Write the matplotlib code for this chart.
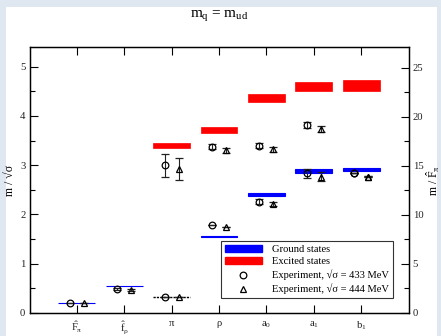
import matplotlib
matplotlib.use("Agg")
import matplotlib.pyplot as plt
from matplotlib.patches import Rectangle, Patch
from matplotlib.lines import Line2D
from matplotlib.ticker import MultipleLocator

plt.rcParams["font.family"] = ["Liberation Serif", "DejaVu Serif"]
plt.rcParams["mathtext.fontset"] = "custom"
plt.rcParams["mathtext.rm"] = "Liberation Serif"
plt.rcParams["mathtext.it"] = "Liberation Serif"
plt.rcParams["mathtext.bf"] = "Liberation Serif:bold"
plt.rcParams["mathtext.default"] = "rm"

# Channels on the x axis
channels = [r"$\hat{F}_\pi$", r"$\hat{f}_\rho$", r"$\pi$", r"$\rho$",
            r"$a_0$", r"$a_1$", r"$b_1$"]

# Lattice ground states (m / sqrt(sigma)) with half-widths; pi is the input mass
fhat_pi = 0.199
ground_val = [fhat_pi, 0.54, 0.33, 1.56, 2.41, 2.88, 2.91]
ground_err = [0.0, 0.0, 0.0, 0.008, 0.034, 0.034, 0.027]

# Lattice excited states (channels pi .. b1)
excited_idx = [2, 3, 4, 5, 6]
excited_val = [3.40, 3.71, 4.36, 4.60, 4.62]
excited_err = [0.06, 0.06, 0.08, 0.085, 0.11]

# Experimental values for sqrt(sigma) = 433 MeV
exp433_idx = [0, 1, 2, 3, 4, 5, 6, 2, 3, 4, 5, 6]
exp433_val = [0.20, 0.48, 0.32, 1.79, 2.26, 2.84, 2.84, 3.00, 3.38, 3.40, 3.82, 2.84]
exp433_err = [0.005, 0.02, 0.0, 0.002, 0.046, 0.092, 0.007, 0.23, 0.058, 0.044, 0.06, 0.007]

# Experimental values for sqrt(sigma) = 444 MeV
exp444_idx = [0, 1, 2, 3, 4, 5, 6, 2, 3, 4, 5, 6]
exp444_val = [0.20, 0.47, 0.315, 1.745, 2.21, 2.77, 2.77, 2.93, 3.30, 3.32, 3.73, 2.77]
exp444_err = [0.005, 0.02, 0.0, 0.002, 0.045, 0.09, 0.007, 0.225, 0.056, 0.043, 0.059, 0.007]

BLUE = "#0000ff"
RED = "#ff0000"
W = 0.78
OFF = 0.15
TICK_FS = 7.7

fig = plt.figure(figsize=(4.41, 3.36), dpi=100, facecolor="#dfe8f1")
fig.add_artist(Rectangle((6 / 441, 0), (437 - 6) / 441, 1 - 7 / 336,
                         transform=fig.transFigure, facecolor="white",
                         edgecolor="none", zorder=-10))

ax = fig.add_axes([29.5 / 441, 23 / 336, 379 / 441, 266 / 336])
ax.set_facecolor("white")

xs = list(range(1, len(channels) + 1))

# Ground states
for i, (v, e) in enumerate(zip(ground_val, ground_err)):
    x = xs[i]
    if i == 2:
        ax.plot([x - W / 2, x + W / 2], [v, v], color="black", lw=1.0,
                dashes=(1.6, 0.8), zorder=2)
    else:
        ax.bar(x, 2 * e, bottom=v - e, width=W, color=BLUE, edgecolor=BLUE,
               linewidth=0.8, zorder=2)

# Excited states
for i, v, e in zip(excited_idx, excited_val, excited_err):
    ax.bar(xs[i], 2 * e, bottom=v - e, width=W, color=RED, edgecolor=RED,
           linewidth=0.5, zorder=2)

# Experimental points
ax.errorbar([xs[i] - OFF for i in exp433_idx], exp433_val, yerr=exp433_err,
            fmt="o", ms=4.8, mfc="none", mec="black", mew=0.9,
            ecolor="#222222", elinewidth=0.8, capsize=2.8, capthick=0.8, zorder=3)
ax.errorbar([xs[i] + OFF for i in exp444_idx], exp444_val, yerr=exp444_err,
            fmt="^", ms=4.8, mfc="none", mec="black", mew=0.9,
            ecolor="#222222", elinewidth=0.8, capsize=2.8, capthick=0.8, zorder=3)

ax.set_xlim(0, len(channels) + 1)
ymax = 5.4
ax.set_ylim(0, ymax)
ax.set_xticks(xs)
ax.set_xticklabels(channels)
ax.yaxis.set_major_locator(MultipleLocator(1))
ax.yaxis.set_minor_locator(MultipleLocator(0.5))
ax.tick_params(axis="both", which="major", direction="in", length=5.8,
               width=0.8, labelsize=TICK_FS, pad=3, top=True, labelcolor="#222222")
ax.tick_params(axis="y", which="minor", direction="in", length=3.5, width=0.8)
ax.tick_params(axis="x", pad=4.5)
for s in ax.spines.values():
    s.set_linewidth(0.9)
ax.set_ylabel("m / √σ", fontsize=8.5, labelpad=3)

ax2 = ax.twinx()
ax2.set_ylim(0, ymax / fhat_pi)
ax2.yaxis.set_major_locator(MultipleLocator(5))
ax2.yaxis.set_minor_locator(MultipleLocator(2.5))
ax2.tick_params(axis="y", which="major", direction="in", length=5.8, width=0.8,
                labelsize=TICK_FS, pad=3, labelcolor="#222222")
ax2.tick_params(axis="y", which="minor", direction="in", length=3.5, width=0.8)
for s in ax2.spines.values():
    s.set_linewidth(0.9)
ax2.set_ylabel(r"m / $\hat{F}_\pi$", fontsize=8.5, labelpad=1)

fig.text(0.5 * (29.5 + 408.5) / 441, 1 - 16 / 336, r"m$_q$ = m$_{ud}$",
         ha="center", va="center", fontsize=11)

handles = [
    Patch(facecolor=BLUE, edgecolor=BLUE),
    Patch(facecolor=RED, edgecolor=RED),
    Line2D([], [], ls="none", marker="o", ms=4.8, mfc="none", mec="black", mew=0.9),
    Line2D([], [], ls="none", marker="^", ms=4.8, mfc="none", mec="black", mew=0.9),
]
labels = ["Ground states", "Excited states",
          "Experiment, √σ = 433 MeV", "Experiment, √σ = 444 MeV"]
leg = ax2.legend(handles, labels, loc="lower right",
                 bbox_to_anchor=(0.959, 0.056), borderaxespad=0,
                 fontsize=7.6, frameon=True, fancybox=False, edgecolor="black",
                 handlelength=3.5, handleheight=0.7, labelspacing=0.3,
                 borderpad=0.35, handletextpad=1.0)
leg.get_frame().set_linewidth(0.8)

fig.savefig("out.png", dpi=100, facecolor=fig.get_facecolor())
